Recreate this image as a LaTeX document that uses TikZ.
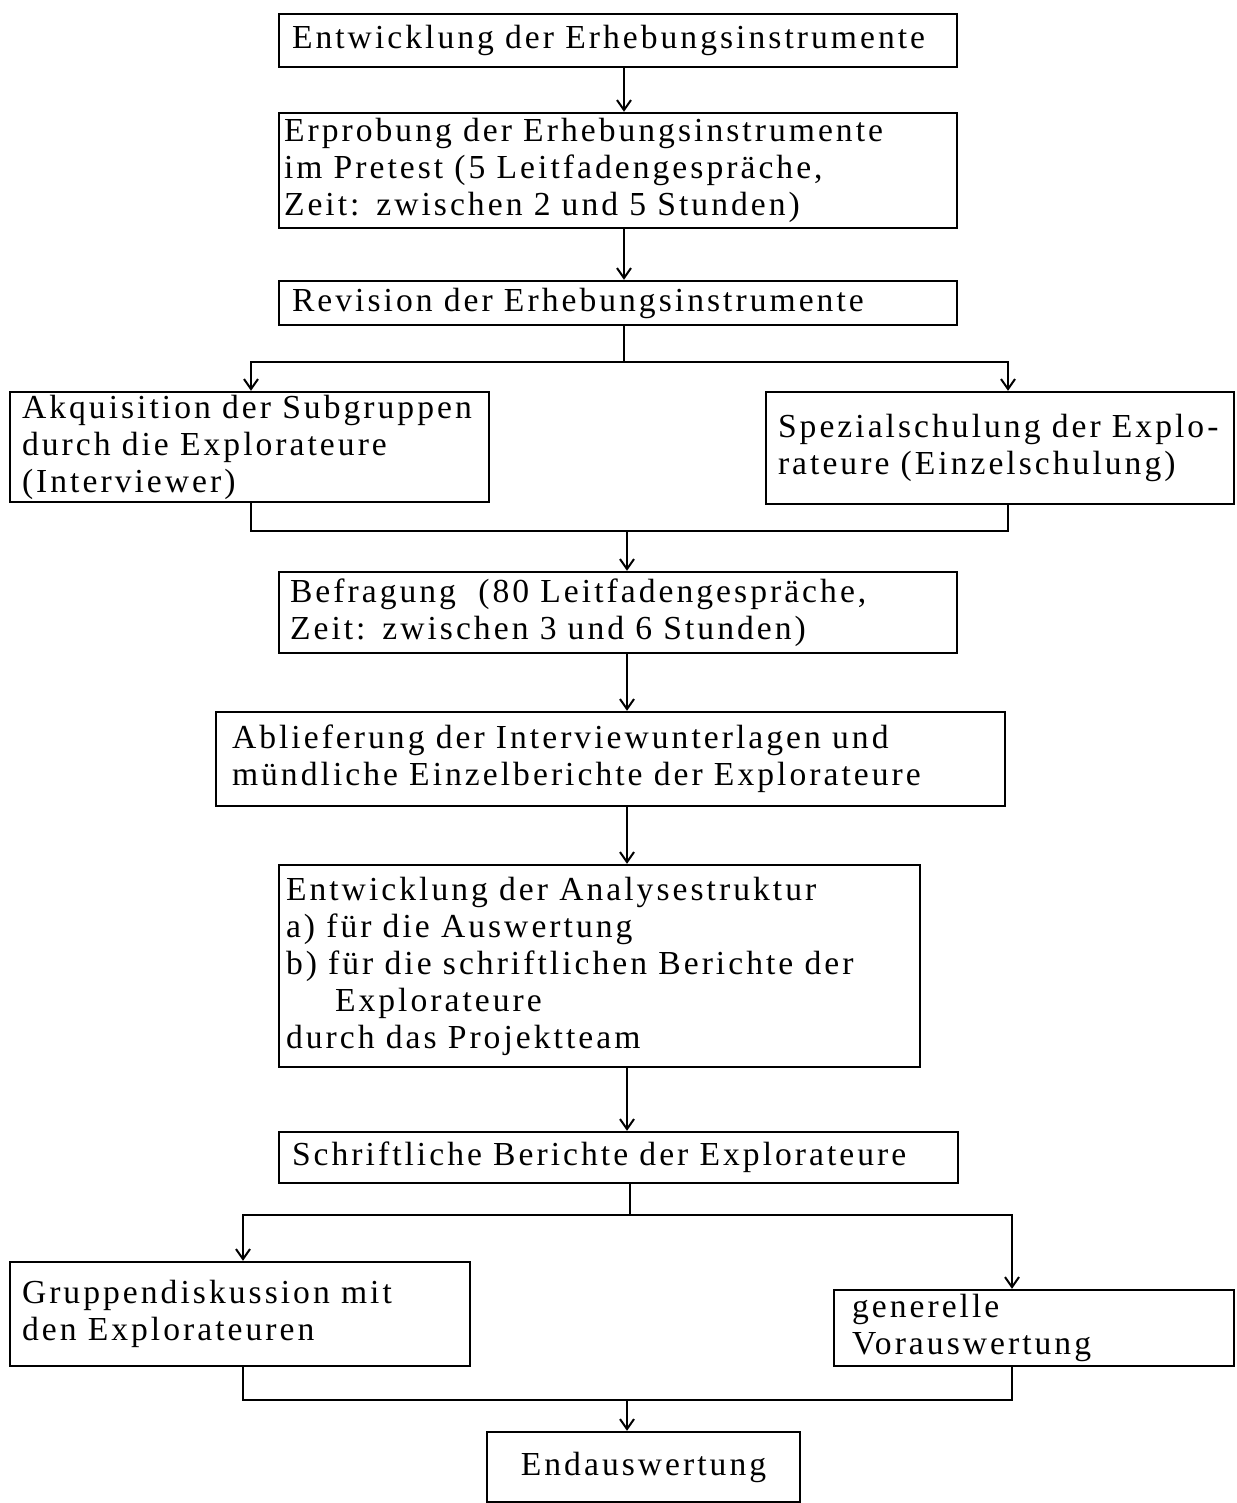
\documentclass[tikz,border=0pt]{standalone}
\usepackage{fontspec}
\setmainfont{Liberation Serif}[LetterSpace=9]
\usetikzlibrary{arrows.meta}
\begin{document}
\begin{tikzpicture}[x=0.5pt,y=-0.5pt,
  box/.style={draw, line width=1.2pt, inner ysep=0pt, align=left,
    font=\fontsize{16.8}{18.5}\selectfont},
  conn/.style={line width=1pt},
  arr/.style={conn, -{Straight Barb[length=5pt,width=7pt]}}]
\useasboundingbox (0,0) rectangle (1236,1503);
\node[box, minimum width=339pt, minimum height=26.5pt, inner xsep=6.5pt, text width=326pt] (b1) at (618,40.5)
  {\mbox{Entwicklung der Erhebungsinstrumente}};
\node[box, minimum width=339pt, minimum height=57.5pt, inner xsep=2.5pt, text width=334pt] (b2) at (618,170.5)
  {\mbox{Erprobung der Erhebungsinstrumente}\\\mbox{im Pretest (5 Leitfadengespräche,}\\\mbox{Zeit: zwischen 2 und 5 Stunden)}};
\node[box, minimum width=339pt, minimum height=22pt, inner xsep=6.5pt, text width=326pt] (b3) at (618,303)
  {\mbox{Revision der Erhebungsinstrumente}};
\node[box, minimum width=239.5pt, minimum height=55pt, inner xsep=6pt, text width=227.5pt] (b4) at (249.5,447)
  {\mbox{Akquisition der Subgruppen}\\\mbox{durch die Explorateure}\\\mbox{(Interviewer)}};
\node[box, minimum width=234pt, minimum height=56pt, inner xsep=6pt, text width=222pt] (b5) at (1000,448)
  {\mbox{Spezialschulung der Explo-}\\\mbox{rateure (Einzelschulung)}};
\node[box, minimum width=339pt, minimum height=40.5pt, inner xsep=5.5pt, text width=328pt] (b6) at (618,612.5)
  {\mbox{Befragung\ \ (80 Leitfadengespräche,}\\\mbox{Zeit: zwischen 3 und 6 Stunden)}};
\node[box, minimum width=394.5pt, minimum height=47pt, inner xsep=8pt, text width=378.5pt] (b7) at (610.5,759)
  {\mbox{Ablieferung der Interviewunterlagen und}\\\mbox{mündliche Einzelberichte der Explorateure}};
\node[box, minimum width=320.5pt, minimum height=101pt, inner xsep=3.5pt, text width=313.5pt] (b8) at (599.5,966)
  {\mbox{Entwicklung der Analysestruktur}\\\mbox{a) für die Auswertung}\\\mbox{b) für die schriftlichen Berichte der}\\\mbox{\hspace{24.5pt}Explorateure}\\\mbox{durch das Projektteam}};
\node[box, minimum width=339.5pt, minimum height=25.5pt, inner xsep=6.5pt, text width=326.5pt] (b9) at (618.5,1157.5)
  {\mbox{Schriftliche Berichte der Explorateure}};
\node[box, minimum width=230pt, minimum height=52pt, inner xsep=6pt, text width=218pt] (b10) at (240,1314)
  {\mbox{Gruppendiskussion mit}\\\mbox{den Explorateuren}};
\node[box, minimum width=200pt, minimum height=38pt, inner xsep=9pt, text width=182pt] (b11) at (1034,1328)
  {\mbox{generelle}\\\mbox{Vorauswertung}};
\node[box, minimum width=156.5pt, minimum height=35pt, align=center] (b12) at (643.5,1467)
  {Endauswertung};
% connectors
\draw[arr] ([xshift=3pt]b1.south) -- ([xshift=3pt]b2.north);
\draw[arr] ([xshift=3pt]b2.south) -- ([xshift=3pt]b3.north);
\coordinate (s1) at (624,362);
\draw[conn] (b3.south -| s1) -- (s1);
\draw[arr] (s1) -| ([xshift=0.75pt]b4.north);
\draw[arr] (s1) -| ([xshift=4pt]b5.north);
\coordinate (m1) at (627,531);
\draw[conn] ([xshift=0.75pt]b4.south) |- ([xshift=4pt]b5.south |- m1) -- ([xshift=4pt]b5.south);
\draw[arr] (m1) -- (b6.north -| m1);
\draw[arr] (b6.south -| m1) -- (b7.north -| m1);
\draw[arr] (b7.south -| m1) -- (b8.north -| m1);
\draw[arr] (b8.south -| m1) -- (b9.north -| m1);
\coordinate (s2) at (630,1215);
\draw[conn] (b9.south -| s2) -- (s2);
\draw[arr] (s2) -| ([xshift=1.5pt]b10.north);
\draw[arr] (s2) -| ([xshift=-11pt]b11.north);
\coordinate (m2) at (627,1400);
\draw[conn] ([xshift=1.5pt]b10.south) |- ([xshift=-11pt]b11.south |- m2) -- ([xshift=-11pt]b11.south);
\draw[arr] (m2) -- (b12.north -| m2);
\end{tikzpicture}
\end{document}
